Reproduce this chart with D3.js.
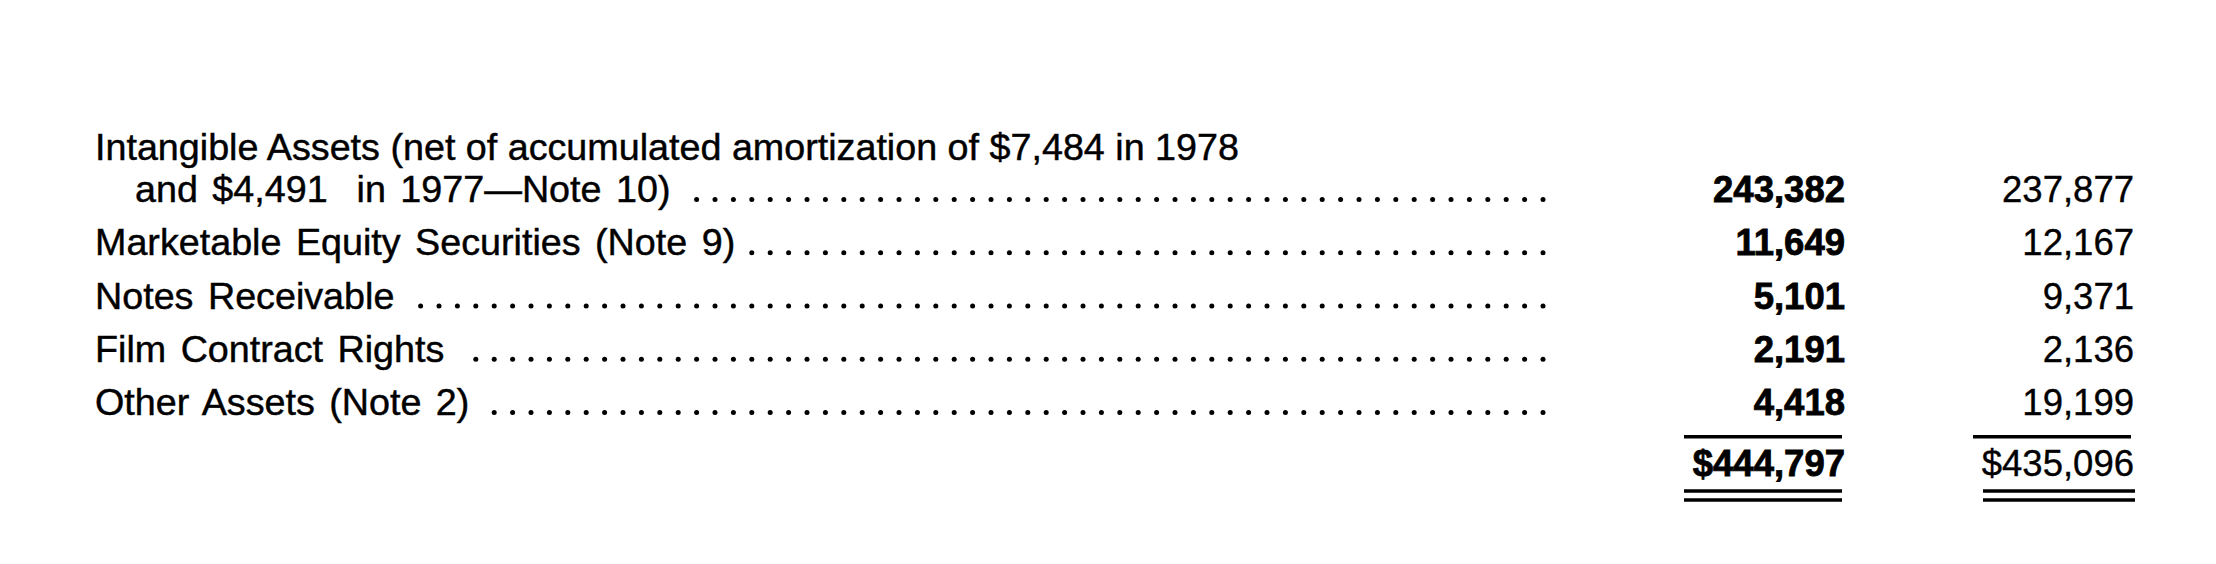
<!DOCTYPE html>
<html>
<head>
<meta charset="utf-8">
<script src="https://cdn.jsdelivr.net/npm/d3@7"></script>
<style>
  html, body { margin: 0; padding: 0; background: #fff; }
  svg { display: block; }
  text { font-family: "Liberation Sans", Arial, Helvetica, sans-serif; fill: #000; white-space: pre; }
</style>
</head>
<body>
<svg id="chart" width="2216" height="564"></svg>
<script>
// ── Data ────────────────────────────────────────────────────────────────────
const labels = [
  ['Intangible Assets (net of accumulated amortization of $7,484 in 1978',
   'and $4,491  in 1977\u2014Note 10)'],
  ['Marketable Equity Securities (Note 9)'],
  ['Notes Receivable'],
  ['Film Contract Rights'],
  ['Other Assets (Note 2)']
];
const years      = ['1978', '1977'];
const values1978 = [243382, 11649, 5101, 2191, 4418];
const values1977 = [237877, 12167, 9371, 2136, 19199];
const totals     = [444797, 435096];

// ── Layout ──────────────────────────────────────────────────────────────────
const svg = d3.select('#chart');
const fmt = d3.format(',');

const rowY = d3.scaleLinear().domain([0, 1]).range([202, 255.25]);   // baseline of a row's last line
const colX = d3.scaleOrdinal().domain(years).range([1845, 2134]);    // right edge of each column
const wrapGap   = 42;     // between wrapped label lines
const labelX    = 95;
const indentX   = 135;
const leaderEnd = 1543;
const leaderStep = 18.4;

// ── Labels + dot leaders ────────────────────────────────────────────────────
const rows = svg.append('g').selectAll('g.row').data(labels).join('g').attr('class', 'row');

rows.each(function(lines, i) {
  const g = d3.select(this);
  const yLast = rowY(i);
  let lastText;
  lines.forEach((ln, j) => {
    const off = (lines.length - 1 - j) * wrapGap;
    lastText = g.append('text')
      .attr('x', j === 0 ? labelX : indentX)
      .attr('y', yLast - off)
      .attr('font-size', 37.7)
      .attr('word-spacing', (i === 0 && j === 0) ? 0 : 4)
      .attr('stroke', '#000')
      .attr('stroke-width', 0.45)
      .text(ln);
  });
  const end = +lastText.attr('x') + lastText.node().getBBox().width;
  const dots = d3.range(leaderEnd, end + 16, -leaderStep);
  g.selectAll('circle').data(dots).join('circle')
    .attr('cx', d => d)
    .attr('cy', yLast - 2.6)
    .attr('r', 2.5)
    .attr('fill', '#000');
});

// ── Values ──────────────────────────────────────────────────────────────────
const cols = [
  { year: '1978', vals: values1978, weight: 'bold', stroke: 0.8 },
  { year: '1977', vals: values1977, weight: 'normal', stroke: 0.35 }
];

cols.forEach((c, ci) => {
  const g = svg.append('g');
  g.selectAll('text').data(c.vals).join('text')
    .attr('x', colX(c.year))
    .attr('y', (d, i) => rowY(i))
    .attr('text-anchor', 'end')
    .attr('font-size', 36.5)
    .attr('font-weight', c.weight)
    .attr('stroke', '#000')
    .attr('stroke-width', c.stroke)
    .text(d => fmt(d));

  const right = colX(c.year);
  const yLastRow = rowY(c.vals.length - 1);
  const yTotal = rowY(c.vals.length) + 8;

  // single rule above total
  g.append('rect')
    .attr('x', right - 161).attr('y', yLastRow + 20)
    .attr('width', 158).attr('height', 3.5).attr('fill', '#000');

  g.append('text')
    .attr('x', right)
    .attr('y', yTotal)
    .attr('text-anchor', 'end')
    .attr('font-size', 36.5)
    .attr('font-weight', c.weight)
    .attr('stroke', '#000')
    .attr('stroke-width', c.stroke)
    .text('$' + fmt(totals[ci]));

  // double rule under total
  [13, 22].forEach(dy => {
    g.append('rect')
      .attr('x', right - (ci === 0 ? 161 : 151)).attr('y', yTotal + dy)
      .attr('width', ci === 0 ? 158 : 152).attr('height', 3.5).attr('fill', '#000');
  });
});
</script>
</body>
</html>
